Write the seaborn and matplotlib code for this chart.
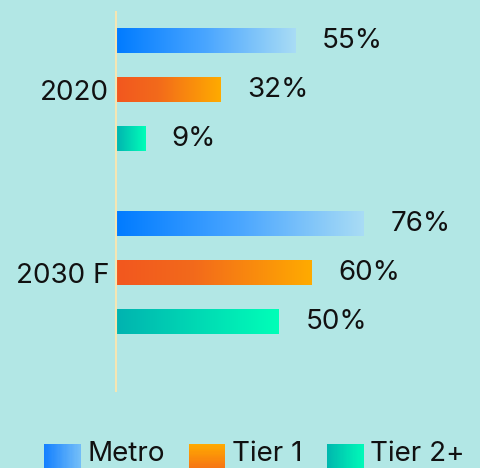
import numpy as np
import pandas as pd
import seaborn as sns
import matplotlib.pyplot as plt
from matplotlib.colors import LinearSegmentedColormap, to_rgb
from matplotlib.patches import Rectangle
from matplotlib.legend_handler import HandlerBase

# Share of segment by year (%)
years = ["2020", "2030 F"]
segments = ["Metro", "Tier 1", "Tier 2+"]
metro = [55, 76]
tier1 = [32, 60]
tier2 = [9, 50]

df = pd.DataFrame({
    "year": years * 3,
    "segment": np.repeat(segments, len(years)),
    "share": metro + tier1 + tier2,
})

BG = "#b2e7e5"
TEXT = "#111111"

bar_ramps = {
    "Metro": [(0.0, "#007bff"), (0.5, "#4aa6ff"), (1.0, "#a9dcf5")],
    "Tier 1": [(0.0, "#f2571f"), (0.4, "#f36a1b"), (1.0, "#ffab00")],
    "Tier 2+": [(0.0, "#00b3b0"), (1.0, "#00ffb8")],
}
solid = ["#3d9bff", "#f67c14", "#00d6b4"]

sns.set_theme(style="white")
plt.rcParams["font.family"] = ["Inter", "DejaVu Sans"]

fig = plt.figure(figsize=(4.81, 4.68), dpi=100, facecolor=BG)
ax = fig.add_axes([116 / 481, 77 / 468, 326 / 481, 379 / 468])
ax.set_facecolor(BG)

sns.barplot(data=df, y="year", x="share", hue="segment", order=years,
            hue_order=segments, orient="h", width=0.8, gap=0.5,
            palette=solid, legend=False, linewidth=0, ax=ax)

# Paint each bar with a left-to-right colour ramp
ramp = np.linspace(0, 1, 256)[None, :]
for container, seg in zip(ax.containers, segments):
    cmap = LinearSegmentedColormap.from_list(seg, bar_ramps[seg])
    for bar in container:
        x0, y0 = bar.get_x(), bar.get_y()
        w, h = bar.get_width(), bar.get_height()
        ax.imshow(ramp, cmap=cmap, extent=[x0, x0 + w, y0 + h, y0],
                  aspect="auto", interpolation="bicubic",
                  zorder=bar.get_zorder() + 0.1)
    ax.bar_label(container, fmt="{:.0f}%", padding=19, fontsize=20,
                 color=TEXT)

ax.set_xlim(0, 100)
ax.set_ylim(1.645, -0.426)
ax.set_xlabel("")
ax.set_ylabel("")
ax.set_xticks([])
ax.tick_params(axis="y", length=0, pad=5, labelsize=20, labelcolor=TEXT)
for side in ["top", "right", "bottom"]:
    ax.spines[side].set_visible(False)
ax.spines["left"].set_color("#f6e6b2")
ax.spines["left"].set_linewidth(1.5)


class GradientBox(HandlerBase):
    """Legend key drawn as a square filled with a colour ramp."""

    def __init__(self, c0, c1, vertical=False, size=26, n=30, lift=0):
        super().__init__()
        self.c0, self.c1 = np.array(to_rgb(c0)), np.array(to_rgb(c1))
        self.vertical, self.size, self.n, self.lift = vertical, size, n, lift

    def create_artists(self, legend, orig_handle, xdescent, ydescent,
                       width, height, fontsize, trans):
        s = self.size
        x0 = -xdescent
        top = -ydescent + height + self.lift
        arts = []
        for i in range(self.n):
            t = i / (self.n - 1)
            col = self.c0 * (1 - t) + self.c1 * t
            if self.vertical:
                r = Rectangle((x0, top - (i + 1) * s / self.n), s, s / self.n + 0.3,
                              facecolor=col, edgecolor="none", transform=trans)
            else:
                r = Rectangle((x0 + i * s / self.n, top - s), s / self.n + 0.3, s,
                              facecolor=col, edgecolor="none", transform=trans)
            arts.append(r)
        return arts


proxies = [Rectangle((0, 0), 1, 1) for _ in segments]
handlers = {
    proxies[0]: GradientBox("#1480ff", "#72bdf8", lift=-2),
    proxies[1]: GradientBox("#ffaa00", "#f25a1e", vertical=True, lift=-2),
    proxies[2]: GradientBox("#00b8ae", "#00f8b8", lift=-2),
}
fig.legend(proxies, segments, handler_map=handlers, loc="upper left",
           bbox_to_anchor=(44 / 481, 1 - 441 / 468), ncol=3, frameon=False,
           fontsize=20, handlelength=1.3, handletextpad=0.25,
           columnspacing=0.88, borderpad=0, borderaxespad=0,
           labelcolor=TEXT)

fig.savefig("out.png", dpi=100, facecolor=BG)
